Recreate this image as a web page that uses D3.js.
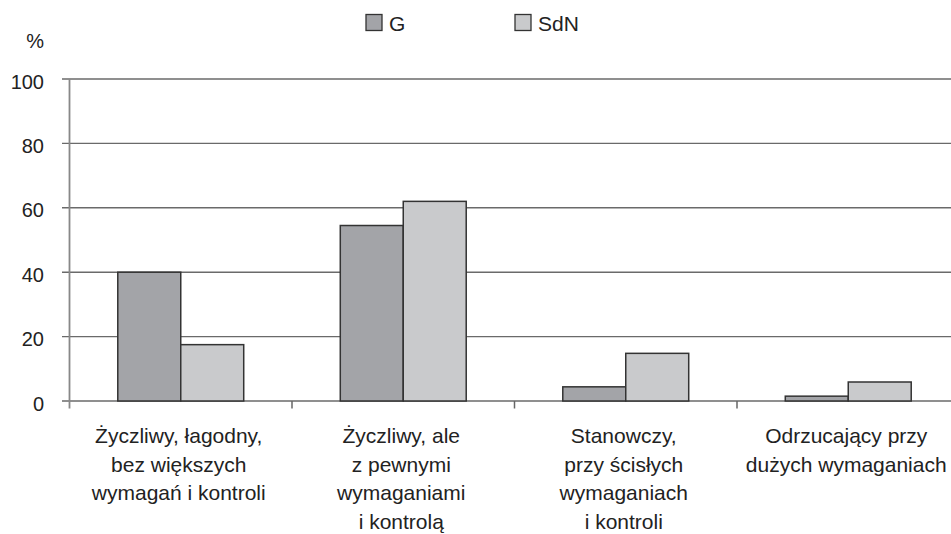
<!DOCTYPE html>
<html><head><meta charset="utf-8">
<script src="https://cdn.jsdelivr.net/npm/d3@7"></script>
<style>
html,body{margin:0;padding:0;background:#fff;overflow:hidden}
text{font-family:"Liberation Sans",Arial,Helvetica,sans-serif;fill:#222}
</style></head>
<body>
<svg id="chart" width="951" height="534"></svg>
<script>
const categories = [
  ["Życzliwy, łagodny,", "bez większych", "wymagań i kontroli"],
  ["Życzliwy, ale", "z pewnymi", "wymaganiami", "i kontrolą"],
  ["Stanowczy,", "przy ścisłych", "wymaganiach", "i kontroli"],
  ["Odrzucający przy", "dużych wymaganiach"]
];
const seriesNames = ["G", "SdN"];
const valuesG = [40, 54.5, 4.4, 1.5];
const valuesSdN = [17.5, 62, 14.8, 5.9];
const yTicks = [0, 20, 40, 60, 80, 100];
const colors = ["#a3a4a8", "#c9cacc"];

const svg = d3.select("#chart");
const pLeft = 69.5, pRight = 959.5, pTop = 79, pBottom = 401;
const catIdx = categories.map((d, i) => i);
const x = d3.scaleBand().domain(catIdx).range([pLeft, pRight]).paddingInner(0.434).paddingOuter(0.217);
const xs = d3.scaleBand().domain(seriesNames).range([0, x.bandwidth()]);
const y = d3.scaleLinear().domain([0, 100]).range([pBottom, pTop]);
const step = x.step();

// gridlines
svg.append("g").selectAll("line").data(yTicks).join("line")
  .attr("x1", pLeft - 7.5).attr("x2", 951)
  .attr("y1", d => y(d)).attr("y2", d => y(d))
  .attr("stroke", "#6a6a6a").attr("stroke-width", 1.4);

// y tick labels
svg.append("g").selectAll("text").data(yTicks).join("text")
  .attr("x", 44).attr("y", d => y(d)).attr("dy", 9.5)
  .attr("text-anchor", "end").attr("font-size", 20)
  .text(d => d);
svg.append("text").attr("x", 44).attr("y", 48).attr("text-anchor", "end")
  .attr("font-size", 20).text("%");

// y axis line
svg.append("line").attr("x1", pLeft).attr("x2", pLeft).attr("y1", pTop).attr("y2", pBottom + 7.5)
  .attr("stroke", "#888").attr("stroke-width", 1.8);

// category ticks
svg.append("g").selectAll("line").data(d3.range(1, categories.length + 1)).join("line")
  .attr("x1", i => pLeft + i * step).attr("x2", i => pLeft + i * step)
  .attr("y1", pBottom).attr("y2", pBottom + 7.5)
  .attr("stroke", "#666").attr("stroke-width", 1.5);

// bars
const data = [valuesG, valuesSdN];
seriesNames.forEach((s, si) => {
  svg.append("g").selectAll("rect").data(data[si]).join("rect")
    .attr("x", (d, i) => x(i) + xs(s))
    .attr("width", xs.bandwidth())
    .attr("y", d => y(d))
    .attr("height", d => y(0) - y(d))
    .attr("fill", colors[si]).attr("stroke", "#333").attr("stroke-width", 1.5);
});

// category labels
const lbl = svg.append("g").selectAll("text").data(categories).join("text")
  .attr("text-anchor", "middle").attr("font-size", 21)
  .attr("transform", (d, i) => `translate(${x(i) + x.bandwidth() / 2 - 2},443)`);
lbl.selectAll("tspan").data(d => d).join("tspan")
  .attr("x", 0).attr("y", (d, j) => j * 28.7).text(d => d);

// legend
const legX = [366, 515];
seriesNames.forEach((s, si) => {
  svg.append("rect").attr("x", legX[si]).attr("y", 14.5).attr("width", 16).attr("height", 16)
    .attr("fill", colors[si]).attr("stroke", "#333").attr("stroke-width", 1.3);
  svg.append("text").attr("x", legX[si] + 23).attr("y", 31).attr("font-size", 21).text(s);
});
</script>
</body></html>
